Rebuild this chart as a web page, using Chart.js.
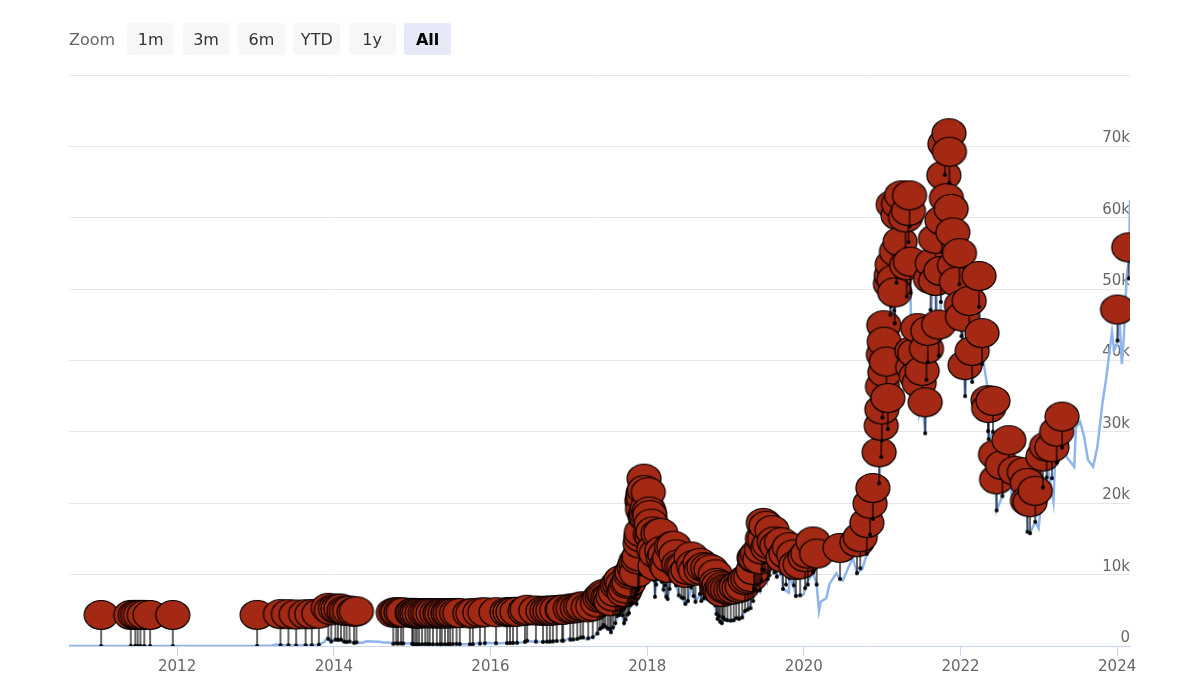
<!DOCTYPE html>
<html>
<head>
<meta charset="utf-8">
<script src="https://cdn.jsdelivr.net/npm/chart.js@4.4.1/dist/chart.umd.min.js"></script>
<style>
body{margin:0;background:#fff;font-family:"DejaVu Sans",sans-serif;}
#wrap{position:relative;width:1193px;height:698px;}
#rs{position:absolute;left:69px;top:23px;height:32px;display:flex;align-items:center;}
#rs span{color:#666;font-size:16px;margin-right:12px;}
#rs button{width:47px;height:32px;margin-right:8.4px;border:0;border-radius:3px;background:#f7f7f7;color:#333;font:16px "DejaVu Sans",sans-serif;padding:0;}
#rs button.on{background:#e6e9f7;color:#000;font-weight:bold;}
</style>
</head>
<body>
<div id="wrap">
  <div id="rs"><span>Zoom</span><button>1m</button><button>3m</button><button>6m</button><button>YTD</button><button>1y</button><button class="on">All</button></div>
  <canvas id="myChart" width="1193" height="698"></canvas>
</div>
<script>
// price line
const priceDates=['2010-08-15','2010-10-15','2010-12-15','2011-02-15','2011-04-15','2011-05-15','2011-06-08','2011-07-15','2011-09-15','2011-11-15',
'2012-01-15','2012-04-15','2012-07-15','2012-08-16','2012-10-15','2012-12-15',
'2013-02-15','2013-03-15','2013-04-09','2013-04-16','2013-05-15','2013-07-05','2013-08-15','2013-10-01','2013-10-25','2013-11-18','2013-11-30','2013-12-18','2013-12-31',
'2014-01-15','2014-02-10','2014-02-25','2014-03-15','2014-04-10','2014-04-25','2014-05-15','2014-06-03','2014-07-01','2014-08-01','2014-08-18','2014-09-15','2014-10-05','2014-10-20','2014-11-10','2014-12-01','2014-12-31',
'2015-01-14','2015-01-25','2015-02-15','2015-03-10','2015-04-15','2015-05-15','2015-06-15','2015-07-10','2015-08-01','2015-08-20','2015-09-15','2015-10-10','2015-11-04','2015-11-15','2015-12-15',
'2016-01-01','2016-01-15','2016-02-15','2016-03-15','2016-04-15','2016-05-15','2016-06-01','2016-06-17','2016-07-01','2016-08-02','2016-08-20','2016-09-15','2016-10-15','2016-11-01','2016-11-20','2016-12-15',
'2017-01-04','2017-01-12','2017-02-15','2017-03-03','2017-03-24','2017-04-15','2017-05-01','2017-05-25','2017-06-12','2017-07-01','2017-07-16','2017-08-01','2017-08-15','2017-09-01','2017-09-15','2017-10-01','2017-10-15','2017-11-01','2017-11-12','2017-11-29','2017-12-07','2017-12-17','2017-12-22','2017-12-31',
'2018-01-06','2018-01-16','2018-01-28','2018-02-06','2018-02-20','2018-03-05','2018-03-18','2018-03-31','2018-04-06','2018-04-24','2018-05-05','2018-05-28','2018-06-10','2018-06-28','2018-07-10','2018-07-25','2018-08-14','2018-09-04','2018-09-10','2018-10-01','2018-11-01','2018-11-14','2018-11-25','2018-12-15','2018-12-24',
'2019-01-15','2019-02-08','2019-02-24','2019-03-15','2019-04-02','2019-04-23','2019-05-14','2019-05-30','2019-06-10','2019-06-26','2019-07-02','2019-07-09','2019-07-17','2019-08-06','2019-08-28','2019-09-19','2019-09-26','2019-10-23','2019-10-26','2019-11-15','2019-11-25','2019-12-15','2019-12-31',
'2020-01-14','2020-02-13','2020-03-01','2020-03-12','2020-03-20','2020-04-15','2020-04-30','2020-05-15','2020-06-01','2020-06-15','2020-07-01','2020-07-27','2020-08-17','2020-09-05','2020-09-30','2020-10-21','2020-11-05','2020-11-24','2020-11-26','2020-12-17','2020-12-31',
'2021-01-08','2021-01-13','2021-01-22','2021-02-08','2021-02-21','2021-02-28','2021-03-13','2021-03-25','2021-04-14','2021-04-25','2021-05-08','2021-05-19','2021-06-01','2021-06-15','2021-06-22','2021-07-06','2021-07-20','2021-08-01','2021-08-22','2021-09-06','2021-09-21','2021-10-01','2021-10-20','2021-11-08','2021-11-20','2021-12-04','2021-12-27',
'2022-01-10','2022-01-22','2022-02-10','2022-02-24','2022-03-28','2022-04-15','2022-05-05','2022-05-12','2022-06-01','2022-06-13','2022-06-18','2022-07-15','2022-07-30','2022-08-14','2022-09-01','2022-09-20','2022-10-10','2022-10-29','2022-11-05','2022-11-09','2022-11-21','2022-12-15','2022-12-31',
'2023-01-14','2023-02-15','2023-03-10','2023-03-20','2023-04-14','2023-05-12','2023-06-15','2023-06-23','2023-07-13','2023-08-01','2023-08-18','2023-09-11','2023-10-01','2023-10-24','2023-11-10','2023-12-08','2023-12-18','2023-12-31',
'2024-01-11','2024-01-23','2024-02-01','2024-02-15','2024-02-26','2024-03-01'];
const prices=[0.07,0.1,0.25,1,1,7,30,14,5,2.5,
6,5,8,13,11.5,13.5,
27,47,230,70,115,70,100,125,190,600,1130,520,750,
850,700,540,630,360,500,450,660,640,590,490,475,320,390,365,380,315,
180,260,235,290,220,237,235,285,280,230,230,245,400,320,455,
430,380,400,415,430,455,535,740,675,545,580,610,640,730,730,780,
1130,780,1010,1270,940,1180,1420,2400,2950,2450,1930,2750,4200,4900,3200,4400,5700,6700,5900,10000,16000,19100,13800,13800,
17200,11300,11700,6900,11400,11500,7900,6900,6600,9600,9700,7100,6800,5900,6300,8200,6200,7300,6300,6600,6350,5700,3800,3200,4000,
3600,3600,4100,3900,4900,5500,8000,8600,7800,12900,10600,12500,9400,11900,9700,10200,8000,7500,9500,8500,7000,7100,7200,
8800,10300,8600,4900,6200,6700,8700,9400,10200,9400,9200,11000,12300,10200,10800,12900,15600,19100,17100,22800,29000,
40600,34000,33000,46400,57500,45200,61200,52300,63500,49000,58800,37000,36700,40200,32500,34200,29800,39800,49300,52700,40700,48200,66000,67500,59000,49000,50700,
41800,35000,44000,37000,47500,40300,36500,29000,30000,22500,19000,21000,23800,24500,20100,19000,19200,20800,21300,16000,15800,17400,16500,
20800,24400,20200,28000,30500,26400,25100,30600,31400,29200,26100,25100,27900,33900,37300,44000,41400,42300,
46600,39500,43100,52000,54500,62500];

// flags
const flagDates=[
'2011-01-12','2011-05-30','2011-06-20','2011-07-01','2011-07-14','2011-08-01','2011-08-28','2011-12-12',
'2013-01-08','2013-04-27','2013-06-03','2013-07-09','2013-08-22','2013-09-20','2013-10-23','2013-12-06','2013-12-20',
'2014-01-08','2014-01-20','2014-02-03','2014-02-18','2014-03-01','2014-03-15','2014-04-05','2014-04-16','2014-10-05','2014-10-19','2014-10-27','2014-11-10','2014-11-20',
'2015-01-01','2015-01-05','2015-01-15','2015-01-23','2015-02-02','2015-02-16','2015-03-03','2015-03-14','2015-03-24','2015-04-08','2015-04-26','2015-05-11','2015-05-19','2015-06-03','2015-06-17','2015-06-27','2015-07-09','2015-07-27','2015-08-11','2015-09-27','2015-10-11','2015-11-13','2015-12-06',
'2016-01-27','2016-03-18','2016-04-01','2016-04-15','2016-05-04','2016-06-10','2016-06-20','2016-07-31','2016-09-02','2016-09-20','2016-10-04','2016-10-18','2016-11-05','2016-11-30','2016-12-05',
'2017-01-07','2017-01-21','2017-02-09','2017-02-24','2017-03-08','2017-04-01','2017-04-22','2017-05-14','2017-05-25','2017-06-05','2017-06-12','2017-06-20','2017-07-01','2017-07-10','2017-07-16','2017-07-25','2017-08-05','2017-08-15','2017-08-25','2017-09-01','2017-09-08','2017-09-15','2017-09-22','2017-10-01','2017-10-08','2017-10-15','2017-10-22','2017-11-01','2017-11-08','2017-11-12','2017-11-18','2017-11-24','2017-11-29','2017-12-02','2017-12-05','2017-12-07','2017-12-10','2017-12-12','2017-12-14','2017-12-17','2017-12-19','2017-12-22','2017-12-25','2017-12-28',
'2018-01-02','2018-01-06','2018-01-10','2018-01-13','2018-01-16','2018-01-20','2018-01-24','2018-01-28','2018-02-01','2018-02-06','2018-02-12','2018-02-20','2018-03-05','2018-03-10','2018-03-18','2018-03-25','2018-03-31','2018-04-06','2018-04-15','2018-04-24','2018-05-05','2018-05-15','2018-05-28','2018-06-10','2018-06-20','2018-06-28','2018-07-10','2018-07-25','2018-08-05','2018-08-14','2018-09-04','2018-09-10','2018-09-22','2018-10-10','2018-10-25','2018-11-14','2018-11-20','2018-11-25','2018-12-01','2018-12-07','2018-12-15','2018-12-20','2018-12-28',
'2019-01-10','2019-01-25','2019-02-08','2019-02-20','2019-03-05','2019-03-20','2019-04-02','2019-04-15','2019-04-28','2019-05-10','2019-05-14','2019-05-20','2019-05-30','2019-06-10','2019-06-18','2019-06-22','2019-06-26','2019-07-02','2019-07-09','2019-07-17','2019-07-25','2019-08-06','2019-08-16','2019-08-28','2019-09-19','2019-09-26','2019-10-10','2019-10-26','2019-11-15','2019-11-25','2019-12-15',
'2020-01-07','2020-01-20','2020-02-13','2020-03-01','2020-06-18','2020-09-05','2020-09-20','2020-10-21','2020-11-05','2020-11-18','2020-12-17','2020-12-27','2020-12-30',
'2021-01-02','2021-01-06','2021-01-08','2021-01-10','2021-01-13','2021-01-20','2021-01-27','2021-02-08','2021-02-12','2021-02-16','2021-02-21','2021-02-25','2021-02-28','2021-03-08','2021-03-15','2021-03-18','2021-03-25','2021-04-01','2021-04-19','2021-04-25','2021-05-03','2021-05-08','2021-05-12','2021-05-19','2021-05-23','2021-06-01','2021-06-08','2021-06-15','2021-06-22','2021-07-06','2021-07-20','2021-07-26','2021-08-01','2021-08-14','2021-08-22','2021-09-06','2021-09-07','2021-09-21','2021-10-01','2021-10-06','2021-10-15','2021-10-20','2021-10-27','2021-11-08','2021-11-10','2021-11-18','2021-11-26','2021-12-04','2021-12-13','2021-12-27',
'2022-01-05','2022-01-10','2022-01-22','2022-02-10','2022-02-24','2022-03-28','2022-04-11','2022-05-09','2022-05-12','2022-06-01','2022-06-13','2022-06-18','2022-07-15','2022-08-14','2022-09-13','2022-10-25','2022-11-08','2022-11-09','2022-11-21','2022-12-15',
'2023-01-20','2023-02-06','2023-03-03','2023-03-25','2023-04-19','2024-01-03','2024-02-24'];
const flagValues=[
0.3,8.8,15,15,14,13,8,3.2,
14,130,120,75,110,125,190,1000,650,
900,870,900,620,560,630,450,520,320,390,355,365,355,
315,275,210,230,225,235,280,285,245,245,220,240,233,225,250,250,270,295,270,235,248,335,390,
395,410,415,430,450,575,730,625,575,610,610,640,700,740,760,
900,920,1000,1180,1200,1080,1240,1750,2400,2600,2950,2700,2450,2400,1930,2600,3200,4200,4350,4900,4300,3200,3700,4400,4600,5700,6000,6700,7400,5900,7800,8200,10000,10900,11600,16000,14800,17000,16500,19100,17500,13800,14000,14400,
15000,17200,14500,14000,11300,12800,11000,11700,9200,6900,8600,11400,11500,9000,7900,8500,6900,6600,8000,9600,9700,8500,7100,6800,6700,5900,6300,8200,7000,6200,7300,6300,6700,6600,6400,5700,4500,3800,4200,3400,3200,4000,3700,
3600,3550,3600,3900,3800,4000,4900,5100,5300,6300,8000,8000,8600,7800,9200,10700,12900,10600,12500,9400,9900,11900,10300,9700,10200,8000,8600,9500,8500,7000,7100,
8100,8600,10300,8600,9400,10200,10900,12900,15600,17800,22800,26500,28800,
32000,36500,40600,38300,34000,35500,30400,46400,47600,49100,57500,47000,45200,50900,56000,57600,52300,58800,55700,49000,56600,58800,49500,37000,34700,36700,33500,40200,32500,34200,29800,37300,39800,47100,49300,52700,46800,40700,48200,55300,61600,66000,58400,67500,64900,56900,53600,49000,46700,50700,
43400,41800,35000,44000,37000,47500,39500,30100,29000,30000,22500,19000,21000,24500,20200,20000,18500,16000,15800,17400,
22200,23600,23500,25700,27800,42800,51500];

// axes
const xTickYears=[2012,2014,2016,2018,2020,2022,2024];
const yTicks=[0,10000,20000,30000,40000,50000,60000,70000,80000];
const yTickLabels=['0','10k','20k','30k','40k','50k','60k','70k',''];

const toMs=s=>Date.parse(s);

function makeFlag()
{
  const c=document.createElement('canvas');
  c.width=40; c.height=98;
  const g=c.getContext('2d');
  const cx=20, py=49;
  g.strokeStyle='#000';
  g.lineWidth=1.2;
  g.beginPath();
  g.moveTo(cx,py);
  g.lineTo(cx,py-18);
  g.stroke();
  g.beginPath();
  g.arc(cx,py,2,0,Math.PI*2);
  g.fillStyle='#000';
  g.fill();
  g.beginPath();
  g.ellipse(cx,py-31,17,14.5,0,0,Math.PI*2);
  g.fillStyle='#a32914';
  g.fill();
  g.stroke();
  return c;
}

const lineData=priceDates.map((d,i)=>({x:toMs(d),y:prices[i]}));
const flagData=flagDates.map((d,i)=>({x:toMs(d),y:flagValues[i]}));

const ctx=document.getElementById('myChart').getContext('2d');
new Chart(ctx,{
  type:'scatter',
  data:{
    datasets:[
      {
        data:flagData,
        pointStyle:makeFlag(),
        pointRadius:5,
        clip:0,
        order:0
      },
      {
        data:lineData,
        showLine:true,
        borderColor:'#8fb5ed',
        borderWidth:2.5,
        pointRadius:0,
        tension:0,
        order:1
      }
    ]
  },
  options:{
    responsive:false,
    animation:false,
    events:[],
    layout:{padding:{left:69,right:63,top:75,bottom:0}},
    plugins:{legend:{display:false},tooltip:{enabled:false}},
    scales:{
      x:{
        type:'linear',
        min:toMs(priceDates[0]),
        max:toMs(priceDates[priceDates.length-1]),
        afterBuildTicks:s=>{s.ticks=xTickYears.map(y=>({value:Date.UTC(y,0,1)}));},
        afterFit:s=>{s.height=52;},
        grid:{drawOnChartArea:false,drawTicks:true,tickLength:10,color:'#ccd6eb'},
        border:{color:'#ccd6eb',width:1},
        ticks:{
          autoSkip:false,maxRotation:0,padding:2,color:'#666',
          font:{family:'DejaVu Sans',size:15},
          callback:(v,i)=>String(xTickYears[i])
        }
      },
      y:{
        type:'linear',
        position:'right',
        min:0,max:80000,
        afterBuildTicks:s=>{s.ticks=yTicks.map(v=>({value:v}));},
        afterFit:s=>{s.width=0;},
        grid:{color:'#e6e6e6',drawTicks:false},
        border:{display:false},
        ticks:{
          mirror:true,padding:0,labelOffset:-8,color:'#666',
          font:{family:'DejaVu Sans',size:15},
          callback:(v,i)=>yTickLabels[i]
        }
      }
    }
  }
});
</script>
</body>
</html>
